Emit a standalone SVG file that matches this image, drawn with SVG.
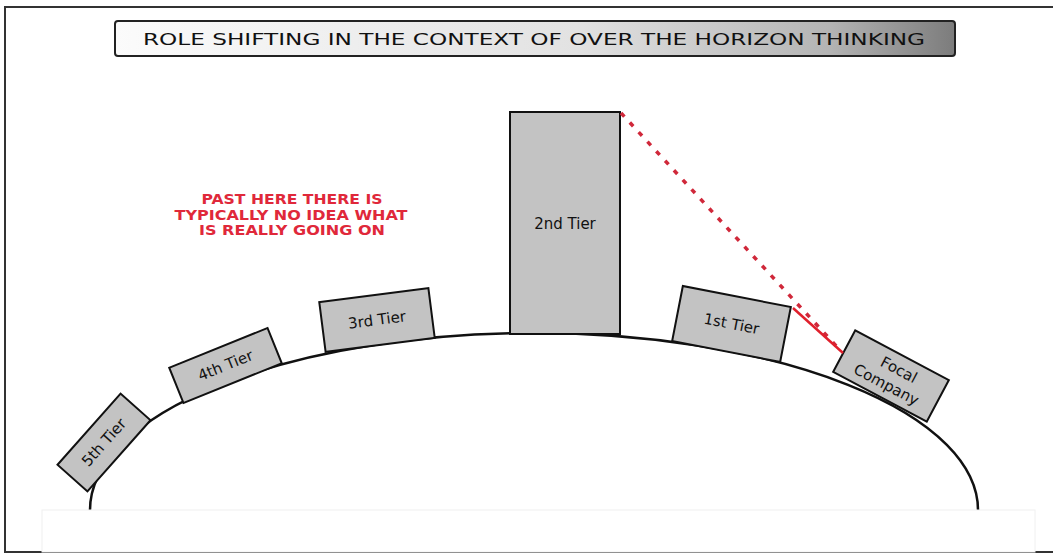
<svg xmlns="http://www.w3.org/2000/svg" width="1053" height="556" viewBox="0 0 1053 556">
<style>
.tier{fill:#c3c3c3;stroke:#111;stroke-width:2}
.lbl{font-family:"Comic Sans MS","DejaVu Sans",sans-serif;font-size:15px;fill:#111;text-anchor:middle;dominant-baseline:central}
.red{font-family:"DejaVu Sans","Liberation Sans",sans-serif;font-weight:bold;font-size:14px;fill:#e0283a;text-anchor:middle}
</style>
<defs>
<linearGradient id="tg" x1="0" y1="0" x2="1" y2="0">
<stop offset="0" stop-color="#fbfbfb"/>
<stop offset="0.55" stop-color="#e2e2e2"/>
<stop offset="0.85" stop-color="#b4b4b4"/>
<stop offset="1" stop-color="#7c7c7c"/>
</linearGradient>
</defs>
<rect x="0" y="0" width="1053" height="556" fill="#ffffff"/>
<rect x="5" y="7" width="1060" height="545" fill="#ffffff" stroke="#333" stroke-width="2"/>
<g id="title">
<rect x="115" y="21" width="840" height="35" rx="3" fill="url(#tg)" stroke="#222" stroke-width="2"/>
<text x="534" y="39" font-family="'Comic Sans MS','DejaVu Sans',sans-serif" font-size="16px" fill="#111" text-anchor="middle" dominant-baseline="central" textLength="782" lengthAdjust="spacingAndGlyphs">ROLE SHIFTING IN THE CONTEXT OF OVER THE HORIZON THINKING</text>
</g>
<g id="horizon">
<path d="M 90 510 A 444 177 0 0 1 978 510" fill="none" stroke="#111" stroke-width="2.5"/>
<rect x="42" y="510" width="993" height="42" fill="#ffffff" stroke="#f0f0f0" stroke-width="1"/>
</g>
<g id="tier2">
<rect class="tier" x="510" y="112" width="110" height="222"/>
<text class="lbl" x="565" y="224">2nd Tier</text>
</g>
<g id="tier3" transform="translate(377,320) rotate(-7.3)">
<rect class="tier" x="-55" y="-25" width="110" height="50"/>
<text class="lbl" x="0" y="0">3rd Tier</text>
</g>
<g id="tier4" transform="translate(225.5,365.5) rotate(-22)">
<rect class="tier" x="-53" y="-19" width="106" height="38"/>
<text class="lbl" x="0" y="0">4th Tier</text>
</g>
<g id="tier5" transform="translate(104,442.5) rotate(-48.4)">
<rect class="tier" x="-47.5" y="-20" width="95" height="40"/>
<text class="lbl" x="0" y="0">5th Tier</text>
</g>
<g id="tier1" transform="translate(731.5,324) rotate(11)">
<rect class="tier" x="-55" y="-28" width="110" height="56"/>
<text class="lbl" x="0" y="0">1st Tier</text>
</g>
<g id="focal" transform="translate(891,376) rotate(28)">
<rect class="tier" x="-53" y="-23.5" width="106" height="47"/>
<text class="lbl" x="4" y="-9">Focal</text>
<text class="lbl" x="0" y="10">Company</text>
</g>
<g id="connectors">
<line x1="621" y1="113" x2="840" y2="350" stroke="#d0283a" stroke-width="3.5" stroke-dasharray="5,8"/>
<line x1="793" y1="308" x2="843" y2="353" stroke="#e0202c" stroke-width="2.5"/>
</g>
<g id="note">
<text class="red" x="292" y="204" textLength="181" lengthAdjust="spacingAndGlyphs">PAST HERE THERE IS</text>
<text class="red" x="291" y="220" textLength="233" lengthAdjust="spacingAndGlyphs">TYPICALLY NO IDEA WHAT</text>
<text class="red" x="292" y="235" textLength="186" lengthAdjust="spacingAndGlyphs">IS REALLY GOING ON</text>
</g>
</svg>
